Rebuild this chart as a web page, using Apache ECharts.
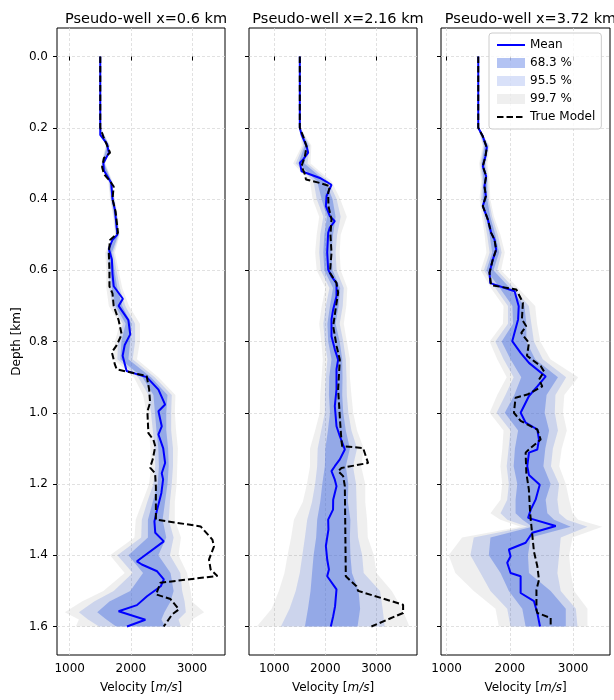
<!DOCTYPE html>
<html>
<head>
<meta charset="utf-8">
<script src="https://cdn.jsdelivr.net/npm/echarts@6/dist/echarts.min.js"></script>
<style>
  html, body { margin: 0; padding: 0; background: #fff; }
  #chart { width: 614px; height: 700px; }
</style>
</head>
<body>
<div id="chart"></div>
<script>
const titles = ['Pseudo-well x=0.6 km', 'Pseudo-well x=2.16 km', 'Pseudo-well x=3.72 km']
const depthTicks = [0, 0.2, 0.4, 0.6, 0.8, 1.0, 1.2, 1.4, 1.6]
const velTicks = [1000, 2000, 3000]
const velRange = [[792, 3541], [506, 3793], [911, 3583]]

// [depth, velocity]
const meanA = [[0,1500],[0.22,1500],[0.245,1610],[0.27,1640],[0.3,1550],[0.32,1560],[0.355,1680],[0.4,1700],[0.43,1740],[0.5,1780],[0.515,1700],[0.54,1640],[0.57,1690],[0.61,1700],[0.645,1720],[0.68,1870],[0.70,1800],[0.74,1960],[0.78,1990],[0.81,1900],[0.84,1866],[0.883,1931],[0.9,2260],[0.935,2452],[0.977,2561],[0.996,2452],[1.038,2506],[1.061,2452],[1.1,2530],[1.141,2561],[1.17,2506],[1.187,2528],[1.225,2500],[1.272,2430],[1.305,2386],[1.337,2400],[1.361,2540],[1.417,2100],[1.426,2180],[1.445,2430],[1.468,2540],[1.487,2490],[1.515,2265],[1.54,2100],[1.557,1800],[1.581,2238],[1.6,1937]]
const trueA = [[0,1500],[0.2,1500],[0.225,1550],[0.245,1600],[0.27,1660],[0.285,1560],[0.31,1530],[0.33,1560],[0.35,1660],[0.365,1720],[0.4,1700],[0.435,1750],[0.495,1790],[0.515,1660],[0.55,1640],[0.6,1650],[0.645,1650],[0.665,1700],[0.7,1720],[0.74,1800],[0.78,1850],[0.81,1770],[0.83,1690],[0.865,1740],[0.878,1770],[0.897,2260],[0.935,2300],[0.972,2315],[0.996,2271],[1.057,2287],[1.076,2370],[1.094,2400],[1.13,2360],[1.154,2315],[1.17,2397],[1.207,2410],[1.3,2410],[1.319,3142],[1.356,3334],[1.375,3361],[1.412,3279],[1.44,3306],[1.458,3416],[1.477,2485],[1.51,2413],[1.523,2649],[1.552,2786],[1.566,2676],[1.6,2539]]
// [depth, lo99.7, lo95.5, lo68.3, hi68.3, hi95.5, hi99.7]
const bandsA = [[0,1494,1496,1498,1502,1504,1506],[0.2,1494,1496,1498,1502,1504,1506],[0.25,1590,1600,1610,1640,1650,1660],[0.3,1515,1525,1537,1563,1575,1585],[0.35,1630,1640,1652,1680,1690,1700],[0.4,1660,1672,1685,1715,1728,1740],[0.45,1710,1722,1735,1765,1778,1790],[0.5,1740,1752,1765,1795,1808,1820],[0.55,1580,1605,1630,1690,1715,1740],[0.6,1600,1635,1665,1730,1765,1800],[0.65,1600,1650,1690,1780,1820,1860],[0.7,1640,1700,1750,1860,1910,1970],[0.75,1820,1870,1915,2010,2070,2150],[0.8,1740,1790,1845,1990,2070,2150],[0.85,1720,1780,1830,1960,2030,2100],[0.9,2050,2120,2190,2330,2390,2450],[0.95,2200,2290,2370,2600,2670,2730],[1.0,2260,2330,2395,2580,2660,2720],[1.05,2300,2360,2420,2580,2660,2740],[1.1,2320,2390,2450,2610,2690,2770],[1.15,2330,2400,2460,2620,2690,2760],[1.2,2300,2370,2440,2600,2670,2750],[1.25,2190,2270,2360,2560,2640,2720],[1.3,2080,2180,2280,2520,2620,2720],[1.35,2060,2170,2280,2580,2700,2820],[1.4,1660,1780,1960,2450,2640,2780],[1.45,1900,2030,2200,2650,2810,2920],[1.5,1550,1720,1990,2700,2840,2980],[1.53,1200,1400,1650,2650,2880,3000],[1.56,920,1150,1450,2550,2900,3200],[1.58,1150,1300,1600,2500,2780,3000],[1.6,1100,1480,1760,2560,2820,2950]]

const meanB = [[0,1500],[0.2,1500],[0.219,1534],[0.252,1632],[0.27,1664],[0.289,1566],[0.298,1502],[0.322,1534],[0.341,1893],[0.36,2120],[0.392,2023],[0.42,2010],[0.448,2088],[0.462,2185],[0.48,2088],[0.495,2055],[0.55,2036],[0.598,2055],[0.617,2120],[0.636,2218],[0.673,2218],[0.71,2153],[0.738,2120],[0.785,2120],[0.822,2185],[0.851,2250],[0.878,2218],[0.935,2218],[0.981,2185],[1.038,2218],[1.066,2283],[1.103,2381],[1.131,2283],[1.15,2185],[1.164,2120],[1.188,2185],[1.206,2218],[1.244,2153],[1.272,2150],[1.3,2055],[1.328,2060],[1.374,2010],[1.412,2036],[1.44,2070],[1.459,2036],[1.496,2218],[1.543,2190],[1.571,2153],[1.6,2107]]
const trueB = [[0,1500],[0.2,1500],[0.224,1566],[0.252,1632],[0.28,1600],[0.308,1534],[0.331,1600],[0.345,1620],[0.355,1893],[0.364,2088],[0.383,2055],[0.42,2060],[0.457,2120],[0.5,2100],[0.551,2120],[0.607,2090],[0.636,2218],[0.663,2250],[0.71,2200],[0.757,2153],[0.813,2220],[0.851,2283],[0.935,2250],[1.028,2290],[1.08,2316],[1.094,2330],[1.099,2738],[1.141,2836],[1.155,2316],[1.164,2250],[1.178,2348],[1.206,2381],[1.459,2400],[1.487,2609],[1.5,2640],[1.539,3521],[1.562,3521],[1.6,2901]]
const bandsB = [[0,1494,1496,1498,1502,1504,1506],[0.2,1494,1496,1498,1502,1504,1506],[0.25,1540,1570,1600,1665,1695,1725],[0.3,1370,1420,1470,1590,1650,1710],[0.35,1700,1770,1840,2000,2060,2120],[0.4,1750,1830,1925,2140,2220,2290],[0.45,1880,1960,2030,2200,2300,2420],[0.5,1830,1900,1980,2150,2230,2300],[0.55,1800,1880,1960,2120,2200,2280],[0.6,1830,1910,1980,2140,2220,2300],[0.65,2000,2080,2150,2290,2360,2430],[0.7,1930,2010,2090,2260,2340,2410],[0.75,1880,1960,2040,2200,2280,2360],[0.8,1920,1990,2055,2280,2350,2420],[0.85,1950,2040,2120,2330,2400,2480],[0.9,1926,2010,2075,2336,2414,2480],[0.95,1900,1990,2070,2330,2420,2510],[1.0,1890,1990,2090,2350,2450,2545],[1.05,1800,1920,2050,2400,2510,2620],[1.1,1700,1850,2000,2480,2620,2750],[1.15,1700,1840,1990,2400,2540,2700],[1.2,1640,1800,1940,2450,2600,2780],[1.25,1560,1740,1900,2440,2610,2780],[1.3,1385,1645,1840,2490,2620,2816],[1.35,1330,1600,1820,2480,2640,2830],[1.4,1260,1550,1770,2490,2720,2950],[1.45,1200,1500,1740,2520,2750,3000],[1.5,1090,1420,1710,2650,3070,3300],[1.55,950,1300,1660,2680,3120,3500],[1.6,660,1130,1600,2630,3160,3645]]

const meanC = [[0,1500],[0.2,1500],[0.224,1572],[0.256,1635],[0.28,1614],[0.308,1572],[0.336,1625],[0.364,1598],[0.392,1620],[0.42,1572],[0.457,1651],[0.495,1704],[0.514,1757],[0.542,1783],[0.57,1730],[0.607,1678],[0.636,1690],[0.659,2075],[0.701,2140],[0.738,2130],[0.799,2037],[0.832,2170],[0.86,2302],[0.898,2567],[0.926,2434],[0.953,2302],[1.0,2170],[1.028,2250],[1.047,2434],[1.075,2460],[1.103,2434],[1.112,2302],[1.15,2275],[1.175,2302],[1.202,2472],[1.244,2407],[1.272,2330],[1.295,2288],[1.318,2725],[1.337,2355],[1.365,2249],[1.384,1984],[1.403,2011],[1.421,1958],[1.45,2011],[1.459,2170],[1.506,2170],[1.529,2381],[1.562,2434],[1.6,2476]]
const trueC = [[0,1500],[0.2,1500],[0.224,1572],[0.256,1635],[0.28,1614],[0.308,1572],[0.336,1625],[0.364,1598],[0.392,1620],[0.42,1572],[0.457,1651],[0.495,1704],[0.514,1757],[0.542,1783],[0.57,1730],[0.607,1678],[0.642,1704],[0.654,2101],[0.691,2206],[0.738,2190],[0.757,2259],[0.776,2180],[0.804,2302],[0.84,2270],[0.869,2487],[0.884,2540],[0.907,2460],[0.926,2513],[0.949,2275],[0.958,2090],[1.0,2064],[1.023,2170],[1.047,2434],[1.075,2487],[1.103,2302],[1.112,2249],[1.169,2260],[1.215,2300],[1.281,2320],[1.318,2340],[1.39,2381],[1.431,2434],[1.469,2460],[1.497,2420],[1.553,2420],[1.562,2434],[1.576,2645],[1.6,2645]]
const bandsC = [[0,1494,1496,1498,1502,1504,1506],[0.2,1494,1496,1498,1502,1504,1506],[0.25,1570,1585,1600,1650,1665,1680],[0.3,1515,1535,1555,1600,1620,1645],[0.35,1545,1565,1585,1635,1655,1680],[0.4,1520,1545,1570,1640,1665,1690],[0.45,1560,1590,1620,1690,1720,1750],[0.5,1600,1640,1680,1770,1810,1850],[0.55,1630,1680,1720,1830,1870,1920],[0.6,1540,1590,1630,1740,1800,1860],[0.65,1700,1770,1840,2000,2060,2130],[0.7,1900,1970,2040,2230,2300,2400],[0.75,1890,1970,2050,2260,2340,2430],[0.8,1680,1770,1870,2260,2380,2480],[0.85,1800,1900,2010,2400,2520,2640],[0.9,1950,2060,2180,2760,2890,3080],[0.95,1800,1930,2070,2580,2720,2860],[1.0,1680,1790,1920,2550,2710,2840],[1.05,1900,2010,2130,2620,2760,2900],[1.1,1880,1980,2080,2560,2680,2820],[1.15,1850,1950,2060,2530,2650,2780],[1.2,1879,1984,2117,2645,2778,2884],[1.244,1852,1958,2090,2566,2751,2937],[1.282,1693,1852,2090,2592,2778,2990],[1.3,1850,1960,2200,2700,2900,3080],[1.32,2170,2275,2355,2963,3227,3460],[1.35,1245,1429,1693,2328,2804,2990],[1.4,1032,1376,1667,2286,2778,2937],[1.45,1138,1535,1852,2302,2751,2963],[1.5,1429,1693,1984,2645,2804,3016],[1.55,1773,1958,2196,2884,3043,3227],[1.6,1826,2011,2249,2884,3069,3227]]

const wells = [
  { mean: meanA, truth: trueA, bands: bandsA },
  { mean: meanB, truth: trueB, bands: bandsB },
  { mean: meanC, truth: trueC, bands: bandsC },
]

const FONT = 'DejaVu Sans'
const gridLefts = [57, 249, 441]
const gridWidths = [168, 168, 169]

// band polygon: hi edge going down, lo edge coming back up
function bandSeries(name, rows, lo, hi, color, i) {
  return {
    type: 'custom',
    name: name,
    xAxisIndex: i,
    yAxisIndex: i,
    silent: true,
    itemStyle: { color: color },
    data: rows.map(r => [r[lo], r[hi], r[0]]),
    encode: { x: [0, 1], y: 2 },
    renderItem: (params, api) => {
      if (params.dataIndex !== 0) return
      const pts = []
      rows.forEach(r => pts.push(api.coord([r[hi], r[0]])))
      for (let k = rows.length - 1; k >= 0; k--) pts.push(api.coord([rows[k][lo], rows[k][0]]))
      return { type: 'polygon', shape: { points: pts }, style: { fill: color } }
    },
  }
}

const grids = [], xAxes = [], yAxes = [], series = []
wells.forEach((w, i) => {
  grids.push({
    left: gridLefts[i], top: 28, width: gridWidths[i], height: 627,
    show: true, borderColor: '#000', borderWidth: 1, backgroundColor: 'transparent',
  })
  xAxes.push({
    type: 'value', gridIndex: i, min: velRange[i][0], max: velRange[i][1],
    name: 'Velocity [{i|m/s}]', nameLocation: 'middle', nameGap: 27,
    nameTextStyle: { fontFamily: FONT, fontSize: 12, color: '#000', rich: { i: { fontFamily: FONT, fontSize: 12, fontStyle: 'italic', color: '#000' } } },
    axisLine: { show: false },
    axisTick: { show: true, length: 4, lineStyle: { color: '#000' }, customValues: velTicks },
    axisLabel: { fontFamily: FONT, fontSize: 12, color: '#000', margin: 8, customValues: velTicks, formatter: v => String(v) },
    splitLine: { show: true, lineStyle: { color: '#d9d9d9', width: 0.8, type: [3, 2] } },
  })
  yAxes.push({
    type: 'value', gridIndex: i, inverse: true, min: -0.08, max: 1.68,
    name: i === 0 ? 'Depth [km]' : '', nameLocation: 'middle', nameGap: 34,
    nameTextStyle: { fontFamily: FONT, fontSize: 12, color: '#000' },
    axisLine: { show: false },
    axisTick: { show: true, length: 4, lineStyle: { color: '#000' }, customValues: depthTicks },
    axisLabel: {
      show: i === 0, fontFamily: FONT, fontSize: 12, color: '#000', margin: 9,
      customValues: depthTicks, formatter: v => v.toFixed(1),
    },
    splitLine: { show: true, lineStyle: { color: '#d9d9d9', width: 0.8, type: [3, 2] } },
  })
  series.push(bandSeries('99.7 %', w.bands, 1, 6, 'rgba(128,128,128,0.13)', i))
  series.push(bandSeries('95.5 %', w.bands, 2, 5, 'rgba(65,105,225,0.2)', i))
  series.push(bandSeries('68.3 %', w.bands, 3, 4, 'rgba(65,105,225,0.4)', i))
  series.push({
    type: 'line', name: 'Mean', xAxisIndex: i, yAxisIndex: i,
    data: w.mean.map(p => [p[1], p[0]]),
    symbol: 'none', lineStyle: { color: '#0000ff', width: 2 }, itemStyle: { color: '#0000ff' },
  })
  series.push({
    type: 'line', name: 'True Model', xAxisIndex: i, yAxisIndex: i,
    data: w.truth.map(p => [p[1], p[0]]),
    symbol: 'none', lineStyle: { color: '#000', width: 2, type: [6.5, 3] }, itemStyle: { color: '#000' },
  })
})

const chart = echarts.init(document.getElementById('chart'), null, { renderer: 'canvas' })
chart.setOption({
  animation: false,
  backgroundColor: '#fff',
  title: titles.map((t, i) => ({
    text: t, left: gridLefts[i] + gridWidths[i] / 2, top: 7, textAlign: 'center',
    textStyle: { fontFamily: FONT, fontSize: 14.5, fontWeight: 'normal', color: '#000' },
  })),
  legend: {
    orient: 'vertical', left: 489, top: 33,
    itemWidth: 28, itemHeight: 10, itemGap: 6,
    padding: [6, 6, 6, 7],
    backgroundColor: 'rgba(255,255,255,0.8)', borderColor: '#cccccc', borderWidth: 1, borderRadius: 3,
    textStyle: { fontFamily: FONT, fontSize: 12, color: '#000' },
    data: [
      { name: 'Mean', itemStyle: { opacity: 0 } },
      { name: '68.3 %', icon: 'rect' },
      { name: '95.5 %', icon: 'rect' },
      { name: '99.7 %', icon: 'rect' },
      { name: 'True Model', itemStyle: { opacity: 0 } },
    ],
  },
  grid: grids,
  xAxis: xAxes,
  yAxis: yAxes,
  series: series,
})
</script>
</body>
</html>
